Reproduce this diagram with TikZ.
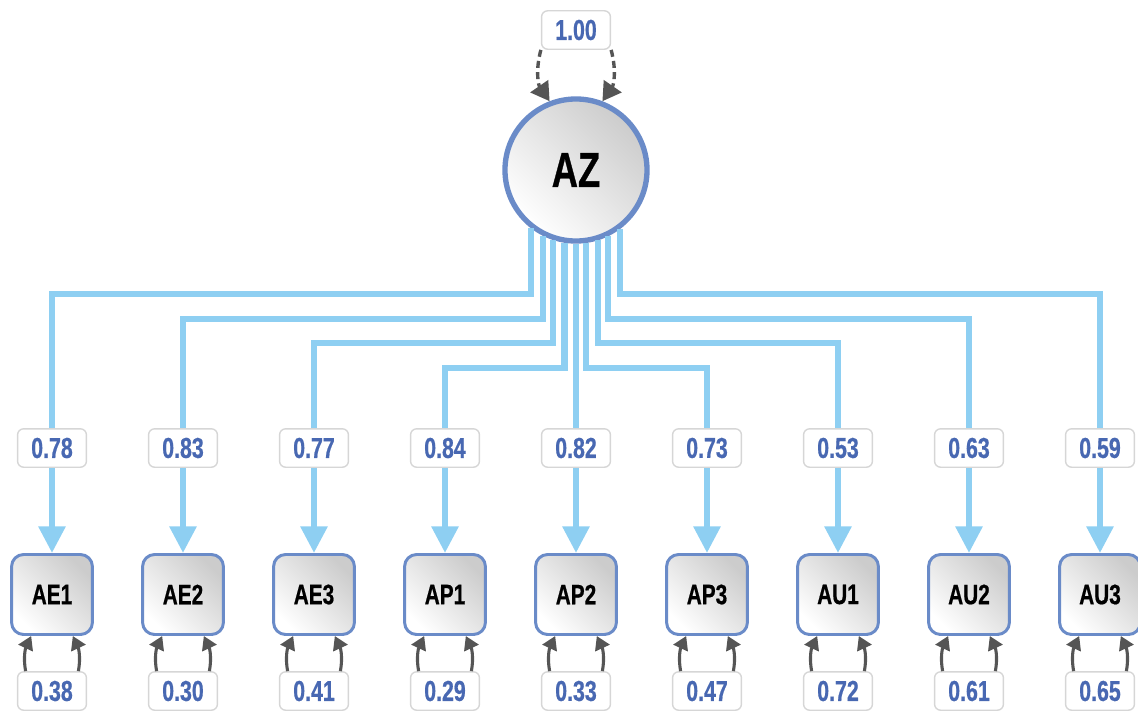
\documentclass[tikz,border=0pt]{standalone}
\usepackage{fontspec}
\setmainfont{Liberation Sans}[FakeStretch=0.74,FakeBold=0.6]
\usepackage{xcolor}
\usepackage{tikz}
\usetikzlibrary{positioning,arrows.meta,shapes}
\definecolor{ringblue}{HTML}{6A8BC8}
\definecolor{numblue}{HTML}{4868B2}
\definecolor{pathblue}{HTML}{8ECFF2}
\definecolor{arrgray}{HTML}{555555}
\definecolor{boxgray}{HTML}{D6D6D6}
\tikzset{
  latent/.style={circle,draw=ringblue,line width=3.8pt,minimum size=3.55cm,
    shade,shading=axis,top color=gray!40,bottom color=white,shading angle=-45,
    font=\fontsize{35}{37}\selectfont\bfseries},
  item/.style={rectangle,rounded corners=0.3cm,draw=ringblue,line width=2.1pt,
    minimum width=2.02cm,minimum height=2.0cm,
    shade,shading=axis,top color=gray!40,bottom color=white,shading angle=-45,
    font=\fontsize{20}{22}\selectfont\bfseries},
  coef/.style={rectangle,rounded corners=0.15cm,draw=boxgray,line width=1pt,fill=white,
    minimum width=1.72cm,minimum height=0.96cm,text=numblue,
    font=\fontsize{20.5}{22}\selectfont\bfseries},
  load/.style={draw=pathblue,line width=4.3pt,-{Triangle[length=19pt,width=18.5pt]}},
  residl/.style={draw=arrgray,line width=2.2pt,-{Triangle[length=9.5pt,width=11pt]},out=100,in=-115},
  residr/.style={draw=arrgray,line width=2.2pt,-{Triangle[length=9.5pt,width=11pt]},out=80,in=-65},
  varloop/.style={draw=arrgray,line width=2.4pt,dash pattern=on 5pt off 3pt,
    -{Triangle[length=13pt,width=15pt]}}
}

\begin{document}
\begin{tikzpicture}[x=0.025cm,y=-0.025cm]
\useasboundingbox (0,0) rectangle (1138,711);
% latent factor
\node[latent] (AZ) at (576,170) {AZ};
\node[coef] (vAZ) at (576,30) {1.00};
\draw[varloop] (vAZ.south west) to[bend right=25] (AZ.111);
\draw[varloop] (vAZ.south east) to[bend left=25] (AZ.69);
%
% indicators
\node[item] (AE1) at (52,594.5) {AE1};
\node[item] (AE2) at (183,594.5) {AE2};
\node[item] (AE3) at (314,594.5) {AE3};
\node[item] (AP1) at (445,594.5) {AP1};
\node[item] (AP2) at (576,594.5) {AP2};
\node[item] (AP3) at (707,594.5) {AP3};
\node[item] (AU1) at (838,594.5) {AU1};
\node[item] (AU2) at (969,594.5) {AU2};
\node[item] (AU3) at (1100,594.5) {AU3};
%
% loadings
\draw[load] (AZ.232.9) |- (AE1 |- 0,294) -- (AE1.north);
\draw[load] (AZ.243.1) |- (AE2 |- 0,319) -- (AE2.north);
\draw[load] (AZ.252.5) |- (AE3 |- 0,343) -- (AE3.north);
\draw[load] (AZ.261.3) |- (AP1 |- 0,368) -- (AP1.north);
\draw[load] (AZ.south) -- (AP2.north);
\draw[load] (AZ.278.7) |- (AP3 |- 0,368) -- (AP3.north);
\draw[load] (AZ.287.5) |- (AU1 |- 0,343) -- (AU1.north);
\draw[load] (AZ.296.9) |- (AU2 |- 0,319) -- (AU2.north);
\draw[load] (AZ.307.1) |- (AU3 |- 0,294) -- (AU3.north);
\node[coef] (lAE1) at (52,448) {0.78};
\node[coef] (lAE2) at (183,448) {0.83};
\node[coef] (lAE3) at (314,448) {0.77};
\node[coef] (lAP1) at (445,448) {0.84};
\node[coef] (lAP2) at (576,448) {0.82};
\node[coef] (lAP3) at (707,448) {0.73};
\node[coef] (lAU1) at (838,448) {0.53};
\node[coef] (lAU2) at (969,448) {0.63};
\node[coef] (lAU3) at (1100,448) {0.59};
%
% residuals
\node[coef] (eAE1) at (52,691) {0.38};
\node[coef] (eAE2) at (183,691) {0.30};
\node[coef] (eAE3) at (314,691) {0.41};
\node[coef] (eAP1) at (445,691) {0.29};
\node[coef] (eAP2) at (576,691) {0.33};
\node[coef] (eAP3) at (707,691) {0.47};
\node[coef] (eAU1) at (838,691) {0.72};
\node[coef] (eAU2) at (969,691) {0.61};
\node[coef] (eAU3) at (1100,691) {0.65};
\draw[residl] ([xshift=-0.66cm]eAE1.north) to ([xshift=-0.52cm]AE1.south);
\draw[residr] ([xshift=0.66cm]eAE1.north) to ([xshift=0.52cm]AE1.south);
\draw[residl] ([xshift=-0.66cm]eAE2.north) to ([xshift=-0.52cm]AE2.south);
\draw[residr] ([xshift=0.66cm]eAE2.north) to ([xshift=0.52cm]AE2.south);
\draw[residl] ([xshift=-0.66cm]eAE3.north) to ([xshift=-0.52cm]AE3.south);
\draw[residr] ([xshift=0.66cm]eAE3.north) to ([xshift=0.52cm]AE3.south);
\draw[residl] ([xshift=-0.66cm]eAP1.north) to ([xshift=-0.52cm]AP1.south);
\draw[residr] ([xshift=0.66cm]eAP1.north) to ([xshift=0.52cm]AP1.south);
\draw[residl] ([xshift=-0.66cm]eAP2.north) to ([xshift=-0.52cm]AP2.south);
\draw[residr] ([xshift=0.66cm]eAP2.north) to ([xshift=0.52cm]AP2.south);
\draw[residl] ([xshift=-0.66cm]eAP3.north) to ([xshift=-0.52cm]AP3.south);
\draw[residr] ([xshift=0.66cm]eAP3.north) to ([xshift=0.52cm]AP3.south);
\draw[residl] ([xshift=-0.66cm]eAU1.north) to ([xshift=-0.52cm]AU1.south);
\draw[residr] ([xshift=0.66cm]eAU1.north) to ([xshift=0.52cm]AU1.south);
\draw[residl] ([xshift=-0.66cm]eAU2.north) to ([xshift=-0.52cm]AU2.south);
\draw[residr] ([xshift=0.66cm]eAU2.north) to ([xshift=0.52cm]AU2.south);
\draw[residl] ([xshift=-0.66cm]eAU3.north) to ([xshift=-0.52cm]AU3.south);
\draw[residr] ([xshift=0.66cm]eAU3.north) to ([xshift=0.52cm]AU3.south);
\end{tikzpicture}
\end{document}
